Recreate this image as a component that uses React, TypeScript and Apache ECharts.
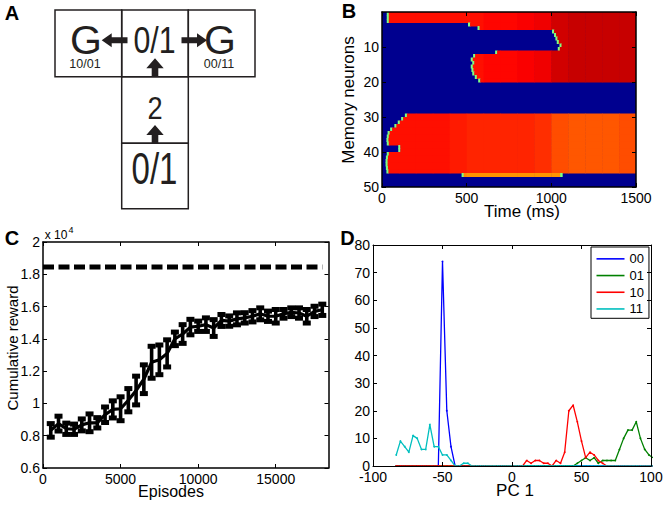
import React, { useEffect, useRef } from 'react';
import * as echarts from 'echarts';

const FONT = '"Liberation Sans", Arial, Helvetica, sans-serif';

// ---------------- Panel B: memory neuron activity ----------------
const timeTicksMs = [0, 500, 1000, 1500];
const neuronTicks = [10, 20, 30, 40, 50];
// onset (ms) of activity of each of the 50 memory neurons (null = silent)
const rowOnsetMs: (number | null)[] = [
  40, 40, 40, 520, 576, 1016, 1028, 1036, 1044, 1060,
  1050, 680, 550, 536, 545, 536, 540, 545, 560, 580,
  null, null, null, null, null, null, null, null, null, 147,
  125, 105, 85, 60, 45, 40, 38, 40, 108, 108,
  40, 35, 33, 33, 35, 38, 482, null, null, null,
];
const rowBand: string[] = [
  'U', 'U', 'U', 'U', 'U', 'U', 'U', 'U', 'U', 'U',
  'U', 'U', 'U', 'U', 'U', 'U', 'U', 'U', 'U', 'U',
  '-', '-', '-', '-', '-', '-', '-', '-', '-', 'L',
  'L', 'L', 'L', 'L', 'L', 'L', 'L', 'L', 'L', 'L',
  'L', 'L', 'L', 'L', 'L', 'L', 'Y', '-', '-', '-',
];
const rowOffsetMs: Record<number, number> = { 47: 1052 };
const levelBinMs = 100;
const upperLevels = [0.86, 0.86, 0.86, 0.86, 0.86, 0.86, 0.87, 0.87, 0.88, 0.89, 0.92, 0.93, 0.93, 0.93, 0.93];
const lowerLevels = [0.86, 0.86, 0.86, 0.86, 0.85, 0.84, 0.84, 0.84, 0.84, 0.83, 0.8, 0.79, 0.79, 0.79, 0.8];
const yellowLevels = [0.74, 0.74, 0.74, 0.74, 0.74, 0.73, 0.73, 0.73, 0.73, 0.73, 0.73, 0.74, 0.74, 0.74, 0.74];
const edgeLevel = 0.5;
const edgeMs = 12;
const jet = ['#00008f', '#0000ff', '#0080ff', '#00ffff', '#80ff80', '#ffff00', '#ff8000', '#ff0000', '#800000'];

// ---------------- Panel C: learning curve ----------------
const episodes = [
  500, 1000, 1500, 2000, 2500, 3000, 3500, 4000, 4500, 5000,
  5500, 6000, 6500, 7000, 7500, 8000, 8500, 9000, 9500, 10000,
  10500, 11000, 11500, 12000, 12500, 13000, 13500, 14000, 14500, 15000,
  15500, 16000, 16500, 17000, 17500, 18000,
];
// cumulative reward, in units of 10^4
const rewardMean = [
  0.833, 0.875, 0.843, 0.84, 0.867, 0.88, 0.88, 0.93, 0.963, 0.967,
  1.02, 1.08, 1.15, 1.255, 1.27, 1.31, 1.40, 1.43, 1.473, 1.478,
  1.488, 1.467, 1.514, 1.51, 1.524, 1.53, 1.54, 1.555, 1.54, 1.54,
  1.555, 1.565, 1.56, 1.54, 1.57, 1.58,
];
const rewardErr = [
  0.042, 0.046, 0.035, 0.032, 0.037, 0.055, 0.032, 0.048, 0.053, 0.074,
  0.072, 0.089, 0.089, 0.099, 0.092, 0.084, 0.042, 0.058, 0.048, 0.032,
  0.042, 0.052, 0.037, 0.032, 0.037, 0.032, 0.035, 0.037, 0.032, 0.042,
  0.027, 0.027, 0.032, 0.042, 0.032, 0.035,
];
const optimalReward = 1.845;
const optimalRange = [0, 18000];
const episodeTicks = [0, 5000, 10000, 15000];

// ---------------- Panel D: PC1 histograms ----------------
const pcBins = [
  -83.3, -80.3, -77.2, -74.2, -71.2, -68.2, -65.1, -62.1, -59.1, -56.0,
  -53.0, -50.0, -46.9, -43.9, -40.9, -37.9, -34.8, -31.8, -28.8, -25.7,
  -22.7, -19.7, -16.6, -13.6, -10.6, -7.6, -4.5, -1.5, 1.5, 4.6,
  7.6, 10.6, 13.7, 16.7, 19.7, 22.8, 25.8, 28.8, 31.8, 34.9,
  37.9, 40.9, 44.0, 47.0, 50.0, 53.0, 56.1, 59.1, 62.1, 65.2,
  68.2, 71.2, 74.3, 77.3, 80.3, 83.4, 86.4, 89.4, 92.4, 95.5,
  98.5, 101.5,
];
const hist00 = [
  0, 0, 0, 0, 0, 0, 0, 0, 0, 0,
  0, 74, 20, 7, 0, 0, 0, 0, 0, 0,
  0, 0, 0, 0, 0, 0, 0, 0, 0, 0,
  0, 0, 0, 0, 0, 0, 0, 0, 0, 0,
  0, 0, 0, 0, 0, 0, 0, 0, 0, 0,
  0, 0, 0, 0, 0, 0, 0, 0, 0, 0,
  0, 0,
];
const hist01 = [
  0, 0, 0, 0, 0, 0, 0, 0, 0, 0,
  0, 0, 0, 0, 0, 0, 0, 0, 0, 0,
  0, 0, 0, 0, 0, 0, 0, 0, 0, 0,
  0, 0, 0, 0, 0, 0, 0, 0, 0, 0,
  0, 0, 0, 1, 2, 3, 2, 3, 1, 2,
  2, 2, 2, 6, 10, 13, 13, 16, 10, 6,
  4, 3,
];
const hist10 = [
  0, 0, 0, 0, 0, 0, 0, 0, 0, 0,
  0, 0, 0, 0, 0, 0, 0, 0, 0, 0,
  0, 0, 0, 0, 0, 0, 0, 0, 0, 0,
  0, 2, 1, 2, 2, 1, 1, 0, 2, 1,
  5, 20, 22, 16, 9, 3, 5, 4, 2, 1,
  0, 0, 0, 0, 0, 0, 0, 0, 0, 0,
  0, 0,
];
const hist11 = [
  4, 9, 7, 5, 11, 10, 6, 6, 15, 7,
  7, 4, 4, 2, 0, 0, 1, 1, 0, 0,
  0, 0, 0, 0, 0, 0, 0, 0, 0, 0,
  0, 0, 0, 0, 0, 0, 0, 0, 0, 0,
  0, 0, 0, 0, 0, 0, 0, 0, 0, 0,
  0, 0, 0, 0, 0, 0, 0, 0, 0, 0,
  0, 0,
];
const histNames = ['00', '01', '10', '11'];
const histColors = ['#0000ff', '#008000', '#ff0000', '#00bfbf'];

function buildHeatCells(): number[][] {
  const bands: Record<string, number[]> = { U: upperLevels, L: lowerLevels, Y: yellowLevels };
  const cells: number[][] = [];
  rowOnsetMs.forEach((onset, i) => {
    if (onset === null) return;
    const levels = bands[rowBand[i]];
    const off = rowOffsetMs[i + 1] ?? 1500;
    cells.push([onset - edgeMs, onset, i, i + 1, edgeLevel]);
    levels.forEach((lv, b) => {
      const s = Math.max(b * levelBinMs, onset);
      const e = Math.min((b + 1) * levelBinMs, off);
      if (e > s) cells.push([s, e, i, i + 1, lv]);
    });
    if (off < 1500) cells.push([off, off + edgeMs, i, i + 1, edgeLevel]);
  });
  return cells;
}

function arrow(x0: number, y0: number, x1: number, y1: number, sw: number, hw: number, hl: number) {
  const len = Math.hypot(x1 - x0, y1 - y0);
  const dx = (x1 - x0) / len, dy = (y1 - y0) / len;
  const nx = -dy, ny = dx;
  const kx = x1 - dx * hl, ky = y1 - dy * hl;
  return {
    type: 'polygon',
    shape: {
      points: [
        [x0 + nx * sw, y0 + ny * sw], [kx + nx * sw, ky + ny * sw], [kx + nx * hw, ky + ny * hw],
        [x1, y1], [kx - nx * hw, ky - ny * hw], [kx - nx * sw, ky - ny * sw], [x0 - nx * sw, y0 - ny * sw],
      ],
    },
    style: { fill: '#231f20' },
  };
}

const plain = (v: number) => String(Math.round(v * 1000) / 1000);

function boxAxes(gridIndex: number, min: number, max: number, interval: number | undefined, opts: any, isX: boolean, lw: number) {
  const base = {
    gridIndex, type: 'value', min, max, interval, z: 5,
    splitLine: { show: false },
    axisLine: { show: true, onZero: false, lineStyle: { color: '#000', width: lw } },
    axisTick: { inside: true, length: 4, lineStyle: { color: '#000', width: 1 } },
  };
  const main = {
    ...base, ...opts,
    axisLabel: { color: '#000', fontSize: 14, fontFamily: FONT, margin: isX ? 4 : 3, formatter: plain, ...(opts.axisLabel || {}) },
    axisTick: { ...base.axisTick, ...(opts.axisTick || {}) },
  };
  const mirror = {
    ...base, inverse: opts.inverse, position: isX ? 'top' : 'right',
    axisLabel: { show: false },
    axisTick: { ...base.axisTick, ...(opts.axisTick || {}) },
  };
  return [main, mirror];
}

export default function App() {
  const ref = useRef<HTMLDivElement>(null);
  useEffect(() => {
    if (!ref.current) return;
    const chart = echarts.init(ref.current, undefined, { renderer: 'svg' });
    const heatCells = buildHeatCells();

    const xB = boxAxes(0, 0, 1500, 500, {}, true, 1.5);
    const yB = boxAxes(0, 0, 50, 10, { inverse: true, axisLabel: { showMinLabel: false } }, false, 1.5);
    const xC = boxAxes(1, 0, 18400, undefined, {
      axisLabel: { customValues: episodeTicks }, axisTick: { customValues: episodeTicks },
    }, true, 1.5);
    const yC = boxAxes(1, 0.6, 2, 0.2, {}, false, 1.5);
    const xD = boxAxes(2, -100, 100, 50, {}, true, 1);
    const yD = boxAxes(2, 0, 80, 10, {}, false, 1);

    const graphicEls: any[] = [];
    // Panel A: T-maze
    const boxes = [
      [55, 10, 66.7, 66.7], [121.7, 10, 66.6, 66.7], [188.3, 10, 66.7, 66.7],
      [121.7, 76.7, 66.6, 66.6], [121.7, 143.3, 66.6, 65.5],
    ];
    boxes.forEach(([x, y, w, h]) =>
      graphicEls.push({ type: 'rect', shape: { x, y, width: w, height: h }, style: { fill: 'none', stroke: '#231f20', lineWidth: 1.5 } })
    );
    graphicEls.push(arrow(127.5, 40.3, 101.7, 40.3, 3, 7, 10));
    graphicEls.push(arrow(181.5, 40.3, 207, 40.3, 3, 7, 10));
    graphicEls.push(arrow(155, 77, 155, 58.3, 3.3, 8.7, 10));
    graphicEls.push(arrow(155, 143.3, 155, 125, 3.3, 8.7, 10));
    const t = (text: string, x: number, y: number, size: number, extra: any = {}) => ({
      type: 'text', x, y, ...extra,
      style: { text, fontSize: size, fontFamily: FONT, fill: '#231f20', align: 'center', verticalAlign: 'middle', ...(extra.style || {}) },
    });
    graphicEls.push(t('G', 86, 39.5, 41));
    graphicEls.push(t('10/01', 85, 63.5, 12.5));
    graphicEls.push({ ...t('0/1', 0, 0, 37), x: 154.5, y: 40, scaleX: 0.82 });
    graphicEls.push(t('G', 220, 39.5, 41));
    graphicEls.push(t('00/11', 219, 63.5, 12.5));
    graphicEls.push({ ...t('2', 0, 0, 32), x: 155, y: 107.5, scaleX: 0.85 });
    graphicEls.push({ ...t('0/1', 0, 0, 44), x: 154.5, y: 169, scaleX: 0.75 });
    // panel letters
    graphicEls.push(t('A', 12, 13, 20, { style: { fontWeight: 'bold', fill: '#000' } }));
    graphicEls.push(t('B', 349, 11, 20, { style: { fontWeight: 'bold', fill: '#000' } }));
    graphicEls.push(t('C', 12, 238, 20, { style: { fontWeight: 'bold', fill: '#000' } }));
    graphicEls.push(t('D', 347.5, 238, 20, { style: { fontWeight: 'bold', fill: '#000' } }));
    // axis titles
    graphicEls.push(t('Memory neurons', 348, 100, 17, { rotation: Math.PI / 2, style: { fill: '#000' } }));
    graphicEls.push(t('Time (ms)', 522, 211, 17, { style: { fill: '#000' } }));
    graphicEls.push(t('Cumulative reward', 12, 348, 15, { rotation: Math.PI / 2, style: { fill: '#000' } }));
    graphicEls.push(t('Episodes', 171, 491, 16, { style: { fill: '#000' } }));
    graphicEls.push(t('PC 1', 515, 490, 17, { style: { fill: '#000' } }));
    graphicEls.push(t('x 10', 56, 235, 12, { style: { fill: '#000' } }));
    graphicEls.push(t('4', 71, 230, 9, { style: { fill: '#000' } }));

    chart.setOption({
      animation: false,
      backgroundColor: '#fff',
      grid: [
        { left: 382, top: 12, width: 254, height: 175, show: true, backgroundColor: '#00008f', borderWidth: 0 },
        { left: 43, top: 242, width: 285.5, height: 226 },
        { left: 373, top: 245, width: 278, height: 221 },
      ],
      xAxis: [...xB, ...xC, ...xD],
      yAxis: [...yB, ...yC, ...yD],
      visualMap: {
        type: 'continuous', show: false, seriesIndex: 0, dimension: 4, min: 0, max: 1,
        inRange: { color: jet },
      },
      legend: {
        data: histNames, orient: 'vertical', left: 591, top: 247,
        icon: 'rect', itemWidth: 28, itemHeight: 1.6, itemGap: 0,
        padding: [3.5, 5, 1, 5.5], borderColor: '#000', borderWidth: 1, backgroundColor: '#fff',
        textStyle: { fontSize: 13, fontFamily: FONT, color: '#000', lineHeight: 16.7 },
      },
      graphic: { elements: graphicEls },
      series: [
        {
          type: 'custom', name: 'activity', xAxisIndex: 0, yAxisIndex: 0, clip: true,
          encode: { x: [0, 1], y: [2, 3] },
          data: heatCells,
          renderItem: (params: any, api: any) => {
            const a = api.coord([api.value(0), api.value(2)]);
            const b = api.coord([api.value(1), api.value(3)]);
            return {
              type: 'rect',
              shape: { x: a[0], y: a[1], width: b[0] - a[0] + 0.5, height: b[1] - a[1] + 0.5 },
              style: { fill: api.visual('color') },
            };
          },
        },
        {
          type: 'line', name: 'optimal', xAxisIndex: 2, yAxisIndex: 2, showSymbol: false, silent: true,
          data: optimalRange.map((x) => [x, optimalReward]),
          lineStyle: { color: '#000', width: 5, type: [11, 4.5] },
        },
        {
          type: 'line', name: 'reward', xAxisIndex: 2, yAxisIndex: 2, showSymbol: false, z: 3,
          data: episodes.map((x, i) => [x, rewardMean[i]]),
          lineStyle: { color: '#000', width: 3.2 },
        },
        {
          type: 'custom', name: 'rewardErr', xAxisIndex: 2, yAxisIndex: 2, z: 4,
          encode: { x: 0, y: [1] },
          data: episodes.map((x, i) => [x, rewardMean[i], rewardErr[i]]),
          renderItem: (params: any, api: any) => {
            const x = api.value(0), m = api.value(1), e = api.value(2);
            const top = api.coord([x, m + e]);
            const bot = api.coord([x, m - e]);
            const cw = 4;
            const st = { stroke: '#000', lineWidth: 3.6 };
            return {
              type: 'group',
              children: [
                { type: 'line', shape: { x1: top[0], y1: top[1], x2: bot[0], y2: bot[1] }, style: st },
                { type: 'line', shape: { x1: top[0] - cw, y1: top[1], x2: top[0] + cw, y2: top[1] }, style: { ...st, lineWidth: 5 } },
                { type: 'line', shape: { x1: bot[0] - cw, y1: bot[1], x2: bot[0] + cw, y2: bot[1] }, style: { ...st, lineWidth: 5 } },
              ],
            };
          },
        },
        ...[hist00, hist01, hist10, hist11].map((h, k) => ({
          type: 'line', name: histNames[k], xAxisIndex: 4, yAxisIndex: 4, clip: true,
          symbol: 'circle', symbolSize: 1.8, showSymbol: true,
          data: pcBins.map((x, i) => [x, h[i]]),
          color: histColors[k],
          itemStyle: { color: histColors[k] },
          lineStyle: { color: histColors[k], width: 1.3 },
        })),
      ],
    } as any);
    return () => chart.dispose();
  }, []);
  return <div ref={ref} style={{ position: 'fixed', left: 0, top: 0, width: 666, height: 505, background: '#fff' }} />;
}
